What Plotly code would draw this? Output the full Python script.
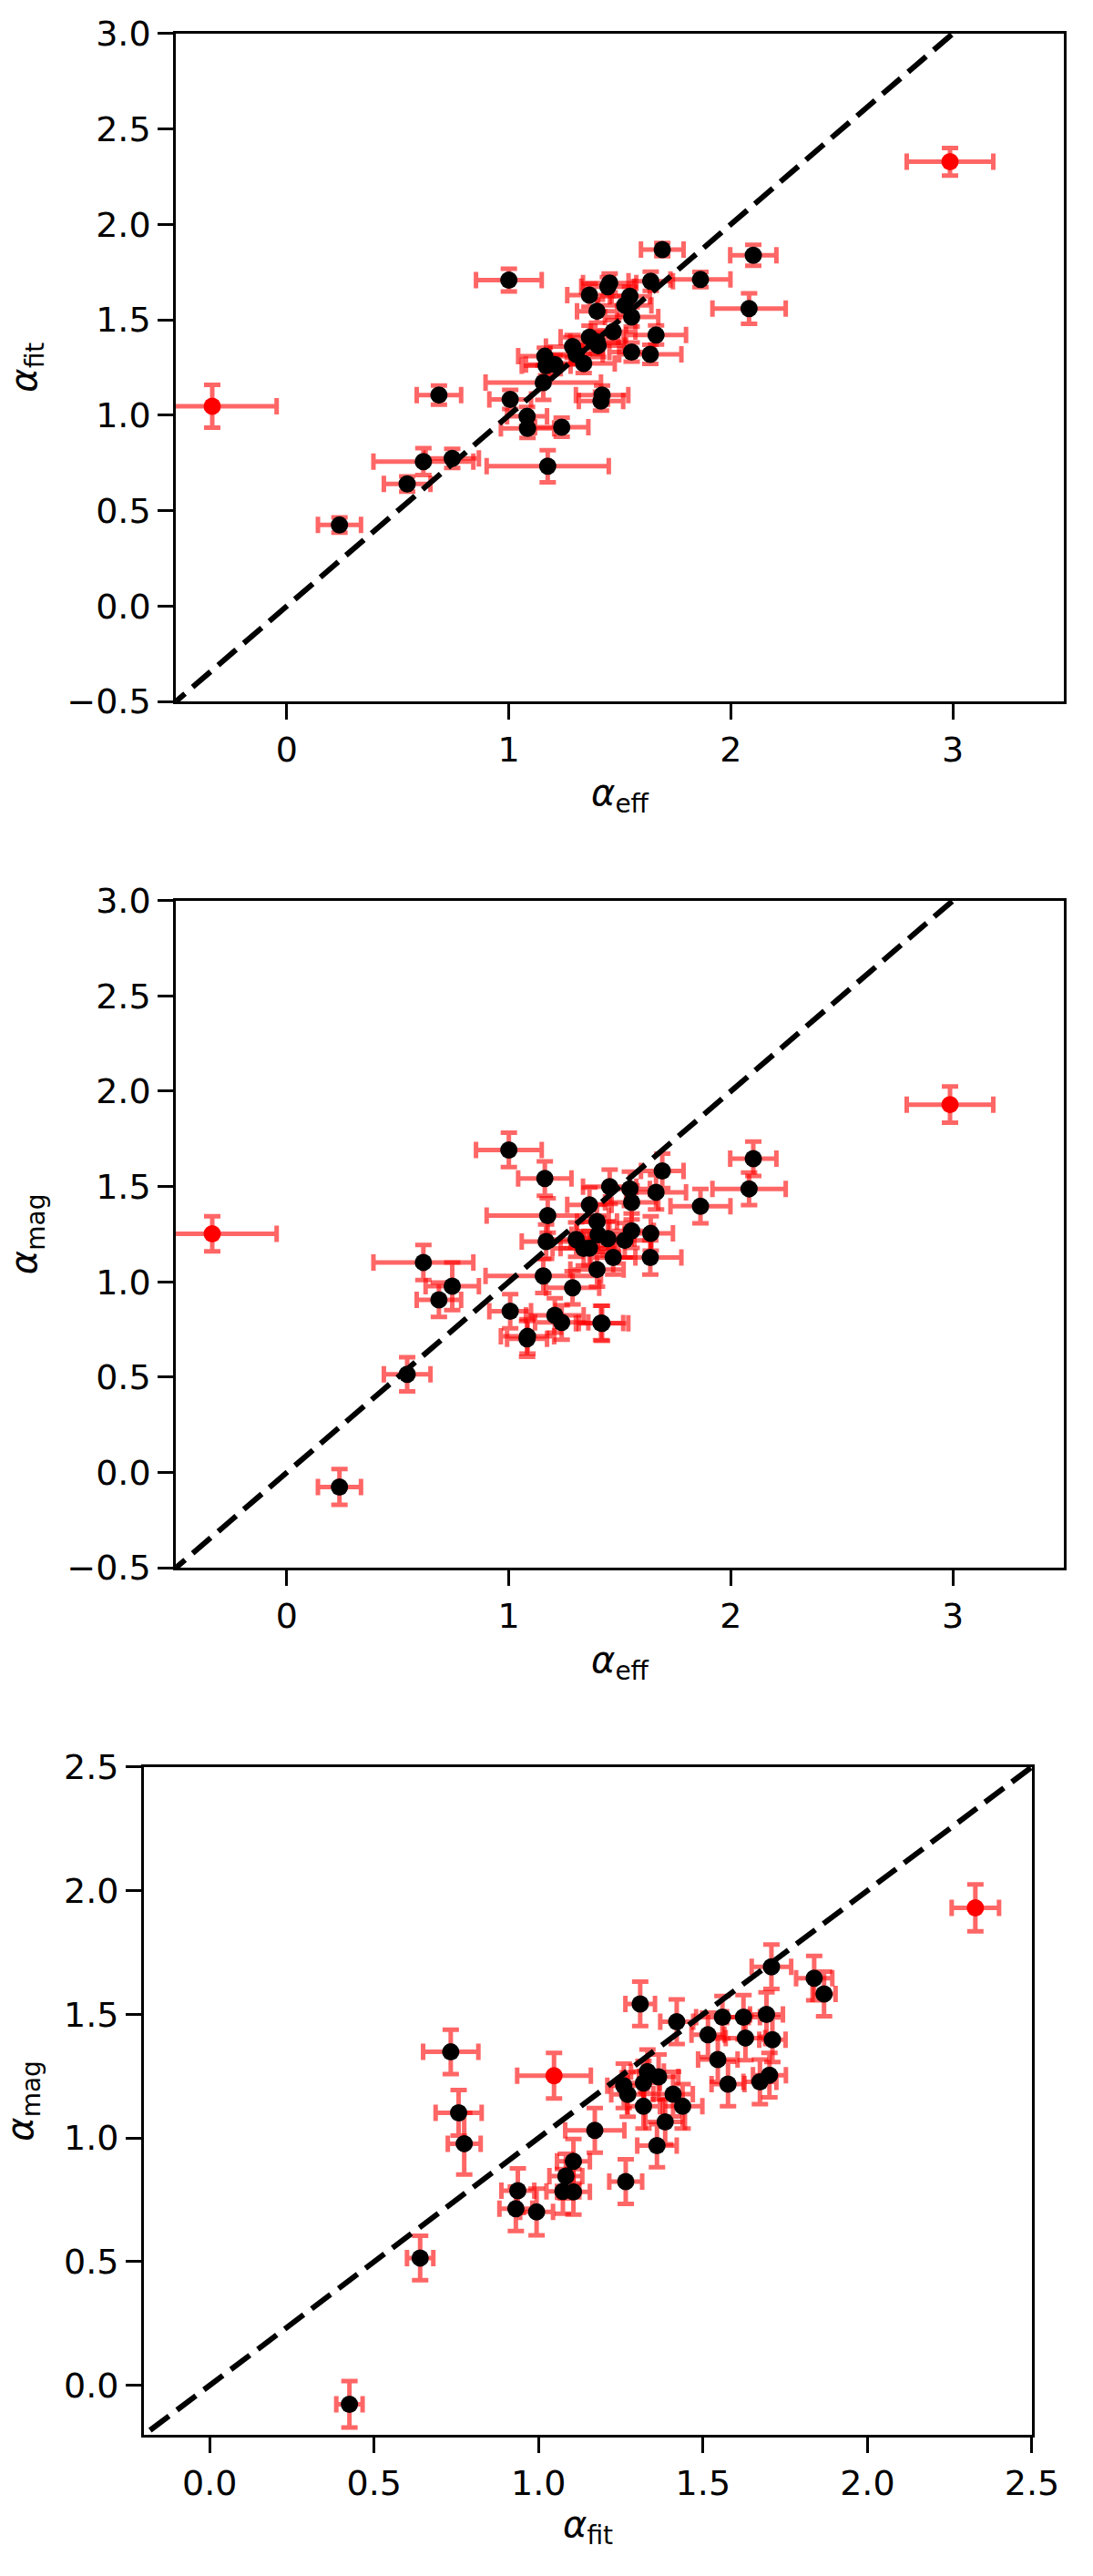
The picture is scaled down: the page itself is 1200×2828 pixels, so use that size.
import plotly.graph_objects as go

# ---- data (black points) ----
alpha_eff = [0.237, 0.542, 0.615, 0.745, 0.685, 1.000, 1.006, 1.082, 1.084, 1.238,
             1.175, 1.155, 1.162, 1.168, 1.207, 1.287, 1.303, 1.337, 1.363, 1.363,
             1.402, 1.397, 1.397, 1.420, 1.415, 1.446, 1.454, 1.470, 1.522, 1.545,
             1.553, 1.553, 1.639, 1.637, 1.663, 1.691, 1.863, 2.082, 2.101]
alpha_eff_err = [0.097, 0.105, 0.225, 0.12, 0.10, 0.148, 0.094, 0.09, 0.12, 0.12,
                 0.275, 0.26, 0.12, 0.11, 0.13, 0.12, 0.12, 0.14, 0.13, 0.10,
                 0.12, 0.09, 0.12, 0.118, 0.10, 0.12, 0.12, 0.10, 0.12, 0.09,
                 0.12, 0.10, 0.10, 0.14, 0.135, 0.096, 0.135, 0.165, 0.104]
alpha_fit = [0.425, 0.640, 0.757, 0.774, 1.106, 1.708, 1.083, 0.994, 0.931, 0.937,
             0.733, 1.171, 1.309, 1.259, 1.265, 1.360, 1.319, 1.271, 1.409, 1.629,
             1.365, 1.545, 1.385, 1.106, 1.074, 1.673, 1.693, 1.438, 1.576, 1.623,
             1.515, 1.331, 1.702, 1.319, 1.420, 1.868, 1.711, 1.559, 1.838]
alpha_fit_err = [0.04, 0.04, 0.07, 0.05, 0.05, 0.06, 0.05, 0.05, 0.05, 0.05,
                 0.084, 0.09, 0.045, 0.05, 0.05, 0.06, 0.05, 0.05, 0.06, 0.06,
                 0.06, 0.06, 0.06, 0.05, 0.05, 0.05, 0.05, 0.06, 0.05, 0.05,
                 0.05, 0.05, 0.05, 0.05, 0.05, 0.035, 0.04, 0.08, 0.055]
alpha_mag = [-0.076, 0.515, 1.102, 0.977, 0.906, 1.692, 0.846, 0.701, 0.714, 0.787,
             1.348, 1.031, 1.542, 1.211, 0.824, 0.969, 1.222, 1.176, 1.177, 1.404,
             1.247, 1.317, 1.065, 0.782, 0.784, 1.227, 1.499, 1.128, 1.218, 1.488,
             1.417, 1.268, 1.254, 1.128, 1.470, 1.582, 1.397, 1.488, 1.646]
alpha_mag_err = [0.094, 0.09, 0.092, 0.125, 0.09, 0.09, 0.09, 0.094, 0.09, 0.09,
                 0.09, 0.09, 0.09, 0.09, 0.09, 0.087, 0.09, 0.09, 0.09, 0.09,
                 0.09, 0.09, 0.09, 0.092, 0.09, 0.09, 0.09, 0.09, 0.09, 0.09,
                 0.09, 0.09, 0.09, 0.09, 0.09, 0.09, 0.09, 0.086, 0.09]

# ---- data (red outliers) ----
out_eff = [-0.336, 2.987]
out_eff_err = [0.29, 0.195]
out_fit = [1.047, 2.328]
out_fit_err = [0.112, 0.072]
out_mag = [1.252, 1.930]
out_mag_err = [0.092, 0.095]

identity = [-1.0, 4.0]

ticks_eff = [0, 1, 2, 3]
ticks_a = [-0.5, 0.0, 0.5, 1.0, 1.5, 2.0, 2.5, 3.0]
ticks_c = [0.0, 0.5, 1.0, 1.5, 2.0, 2.5]

W, H = 1200, 2828
ERR_COLOR = "rgba(255,0,0,0.6)"
FONT = "DejaVu Sans"
TICK_SIZE = 38
TITLE_SIZE = 40
MSIZE = 19


def err(arr):
    return dict(type="data", array=arr, color=ERR_COLOR, thickness=5, width=9, visible=True)


fig = go.Figure()

panels = [
    ("x", "y", alpha_eff, alpha_eff_err, alpha_fit, alpha_fit_err,
     out_eff, out_eff_err, out_fit, out_fit_err),
    ("x2", "y2", alpha_eff, alpha_eff_err, alpha_mag, alpha_mag_err,
     out_eff, out_eff_err, out_mag, out_mag_err),
    ("x3", "y3", alpha_fit, alpha_fit_err, alpha_mag, alpha_mag_err,
     out_fit, out_fit_err, out_mag, out_mag_err),
]

for xa, ya, xs, xe, ys, ye, oxs, oxe, oys, oye in panels:
    fig.add_trace(go.Scatter(
        x=xs, y=ys, mode="markers", xaxis=xa, yaxis=ya,
        marker=dict(color="black", size=MSIZE, line=dict(width=0)),
        error_x=err(xe), error_y=err(ye), showlegend=False, hoverinfo="skip"))
    fig.add_trace(go.Scatter(
        x=oxs, y=oys, mode="markers", xaxis=xa, yaxis=ya,
        marker=dict(color="red", size=MSIZE, line=dict(width=0)),
        error_x=err(oxe), error_y=err(oye), showlegend=False, hoverinfo="skip"))
    fig.add_trace(go.Scatter(
        x=identity, y=identity, mode="lines", xaxis=xa, yaxis=ya,
        line=dict(color="black", width=6, dash="26px,11px"),
        showlegend=False, hoverinfo="skip"))


def axis(domain, rng, tickvals, fmt, anchor):
    return dict(
        domain=domain, range=rng, anchor=anchor,
        tickmode="array", tickvals=tickvals,
        ticktext=[(fmt.format(v)).replace("-", "\u2212") for v in tickvals],
        showline=True, mirror=True, linecolor="black", linewidth=2.7,
        ticks="outside", ticklen=17, tickwidth=2.7, tickcolor="black",
        showgrid=False, zeroline=False,
        tickfont=dict(family=FONT, size=TICK_SIZE, color="black"),
    )


px = lambda p: p / W
py = lambda p: 1 - p / H

d1x = [px(198), px(1198)]
d1y = [py(760), py(15)]
d2y = [py(1726), py(982)]
d3x = [px(162), px(1162)]
d3y = [py(2693), py(1948)]

fig.update_layout(
    width=W, height=H, margin=dict(l=0, r=0, t=0, b=0),
    paper_bgcolor="white", plot_bgcolor="white",
    xaxis=axis(d1x, [-0.5, 3.5], ticks_eff, "{:d}", "y"),
    yaxis=axis(d1y, [-0.5, 3.0], ticks_a, "{:.1f}", "x"),
    xaxis2=axis(d1x, [-0.5, 3.5], ticks_eff, "{:d}", "y2"),
    yaxis2=axis(d2y, [-0.5, 3.0], ticks_a, "{:.1f}", "x2"),
    xaxis3=axis(d3x, [-0.2, 2.5], ticks_c, "{:.1f}", "y3"),
    yaxis3=axis(d3y, [-0.2, 2.5], ticks_c, "{:.1f}", "x3"),
)

titles = [
    ("<i>α</i><sub>eff</sub>", (198 + 1198) / 2, 864, 0),
    ("<i>α</i><sub>fit</sub>", 30, (15 + 760) / 2, -90),
    ("<i>α</i><sub>eff</sub>", (198 + 1198) / 2, 1831, 0),
    ("<i>α</i><sub>mag</sub>", 30, (982 + 1726) / 2, -90),
    ("<i>α</i><sub>fit</sub>", (162 + 1162) / 2, 2796, 0),
    ("<i>α</i><sub>mag</sub>", 26, (1948 + 2693) / 2, -90),
]
for text, x, y, ang in titles:
    fig.add_annotation(
        text=text, x=px(x), y=py(y), xref="paper", yref="paper",
        xanchor="center", yanchor="middle", textangle=ang, showarrow=False,
        font=dict(family=FONT, size=TITLE_SIZE, color="black"))

fig.write_html("out.html")
